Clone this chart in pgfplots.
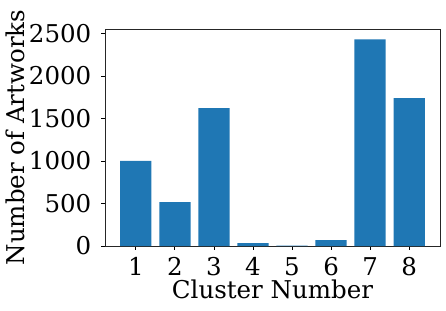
\documentclass[border=0pt]{standalone}
\usepackage{fontspec}
\setmainfont{DejaVu Serif}
\usepackage{pgfplots}
\pgfplotsset{compat=1.18}
\definecolor{tabblue}{HTML}{1F77B4}
\begin{document}
\fontsize{25}{29}\selectfont
\begin{tikzpicture}[x=1pt,y=1pt]
\useasboundingbox (-105,-64) rectangle (341,246);
\begin{axis}[
  at={(0,0)}, anchor=origin,
  scale only axis, width=335pt, height=217pt,
  xmin=0.21, xmax=8.79, ymin=0, ymax=2551.5,
  xtick={1,2,3,4,5,6,7,8},
  ytick={0,500,1000,1500,2000,2500},
  tick align=outside, tick pos=left,
  major tick length=3.5pt,
  tick style={black, line width=0.8pt},
  axis line style={line width=0.8pt, black!85},
  /pgf/number format/assume math mode=true,
  /pgf/number format/1000 sep={},
  ticklabel style={font=\fontsize{24.5}{29}\selectfont, inner sep=0pt},
  xticklabel style={anchor=north, yshift=-8pt},
  yticklabel style={anchor=east, xshift=-10pt},
  label style={font=\fontsize{24.5}{29}\selectfont, inner sep=0pt},
  xlabel={Cluster Number},
  ylabel={Number of Artworks},
  xlabel style={at={(axis description cs:0.5,0)}, anchor=base, yshift=-52pt},
  ylabel style={at={(axis description cs:0,0.5)}, anchor=base, rotate=0, xshift=0pt, yshift=80pt},
  ybar, bar width=31.24pt,
  enlarge x limits=false,
]
\addplot[fill=tabblue, draw=none, bar shift=0pt] coordinates {
 (1,1000) (2,517) (3,1622) (4,35) (5,3) (6,70) (7,2430) (8,1740)
};
\end{axis}
\end{tikzpicture}
\end{document}
